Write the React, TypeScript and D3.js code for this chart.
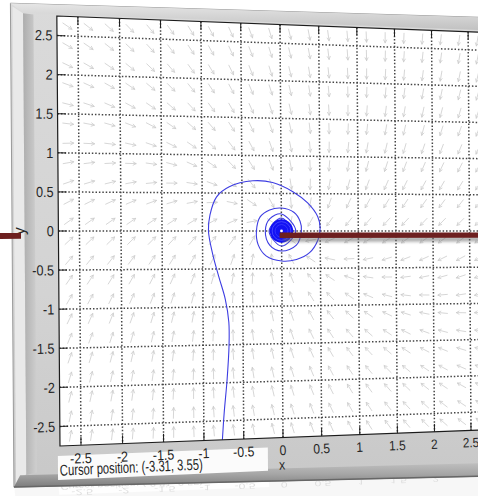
import React from "react";
import * as d3 from "d3";

// ---------- chart data ----------
const xDomain: [number, number] = [-2.75, 2.75];
const yDomain: [number, number] = [-2.75, 2.75];
const xTicks = [-2.5, -2, -1.5, -1, -0.5, 0, 0.5, 1, 1.5, 2, 2.5];
const xTickLabels = ["-2.5", "-2", "-1.5", "-1", "-0.5", "0", "0.5", "1", "1.5", "2", "2.5"];
const yTicks = [2.5, 2, 1.5, 1, 0.5, 0, -0.5, -1, -1.5, -2, -2.5];
const yTickLabels = ["2.5", "2", "1.5", "1", "0.5", "0", "-0.5", "-1", "-1.5", "-2", "-2.5"];
const xLabel = "x";
const yLabel = "y";
const cursorLabel = "Cursor position:  (-3.31, 3.55)";

// direction-field sample positions
const arrowXs = [-2.625, -2.375, -2.125, -1.875, -1.625, -1.375, -1.125, -0.875, -0.625, -0.375, -0.125,
  0.125, 0.375, 0.625, 0.875, 1.125, 1.375, 1.625, 1.875, 2.125, 2.375, 2.625];
const arrowYs = [2.625, 2.375, 2.125, 1.875, 1.625, 1.375, 1.125, 0.875, 0.625, 0.375, 0.125,
  -0.125, -0.375, -0.625, -0.875, -1.125, -1.375, -1.625, -1.875, -2.125, -2.375, -2.625];
// linear system x' = a x + b y, y' = c x + d y (estimated from the arrow directions)
const fieldRowX = [-1.13, 0.57];
const fieldRowY = [-1.0, -2.2];

// solution curve, read point by point
const trajectory: [number, number][] = [
  [-0.77, -2.76], [-0.745, -2.4], [-0.705, -1.96], [-0.677, -1.5], [-0.678, -1.2], [-0.72, -0.9],
  [-0.8, -0.6], [-0.875, -0.3], [-0.925, 0], [-0.905, 0.21], [-0.82, 0.45], [-0.66, 0.585],
  [-0.36, 0.665], [-0.11, 0.645], [0.15, 0.525], [0.34, 0.375], [0.47, 0.19], [0.5, 0.04],
  [0.47, -0.12], [0.36, -0.29], [0.19, -0.38], [0, -0.4], [-0.2, -0.33], [-0.3, -0.18], [-0.32, 0],
  [-0.27, 0.19], [-0.15, 0.28], [0, 0.306], [0.16, 0.25], [0.24, 0.13], [0.256, 0], [0.19, -0.19],
  [0, -0.267], [-0.15, -0.19], [-0.207, 0], [-0.15, 0.16], [0, 0.227], [0.183, 0], [0, -0.2],
  [-0.159, 0], [0, 0.173], [0.152, 0],
];
const coreRadius = 0.15;

// ---------- layout / perspective ----------
const WIDTH = 478;
const HEIGHT = 496;
const HALF_W = 225.4;
const HALF_H = 206.5;
const PERSP = 1.752e-4;
const CX = 281.5;
const CY = 231;
const SHEAR = 0.0073;

const xFlat = d3.scaleLinear().domain(xDomain).range([-HALF_W, HALF_W]);
const yFlat = d3.scaleLinear().domain(yDomain).range([HALF_H, -HALF_H]);

const proj = (u: number, v: number): [number, number] => {
  const den = 1 + PERSP * u;
  return [(u + CX + SHEAR * v) / den, CY + v / den];
};
const P = (x: number, y: number) => proj(xFlat(x), yFlat(y));
const poly = (pts: [number, number][]) =>
  "M" + pts.map((p) => proj(p[0], p[1]).map((n) => n.toFixed(2)).join(",")).join("L") + "Z";
const seg = (a: [number, number], b: [number, number]) => {
  const p = proj(a[0], a[1]);
  const q = proj(b[0], b[1]);
  return `M${p[0].toFixed(2)},${p[1].toFixed(2)}L${q[0].toFixed(2)},${q[1].toFixed(2)}`;
};
const textTf = (u: number, v: number, rot = 0, sx = 0.87) => {
  const [x, y] = proj(u, v);
  const [x2, y2] = proj(u + 10, v);
  const ang = (Math.atan2(y2 - y, x2 - x) * 180) / Math.PI + rot;
  const k = 1 / (1 + PERSP * u);
  return `translate(${x.toFixed(2)},${y.toFixed(2)}) rotate(${ang.toFixed(3)}) scale(${(sx * k).toFixed(4)},${k.toFixed(4)})`;
};

const FONT = "'Liberation Sans', Arial, Helvetica, sans-serif";

export default function App() {
  const xUnit = xFlat(1) - xFlat(0);
  const yUnit = yFlat(1) - yFlat(0);

  // arrows
  const arrowPaths: string[] = [];
  const L = 10.5;
  const HL = 3.4;
  for (const y of arrowYs) {
    for (const x of arrowXs) {
      const dx = fieldRowX[0] * x + fieldRowX[1] * y;
      const dy = fieldRowY[0] * x + fieldRowY[1] * y;
      let fu = dx * xUnit;
      let fv = dy * yUnit;
      const m = Math.hypot(fu, fv) || 1;
      fu /= m;
      fv /= m;
      const u0 = xFlat(x);
      const v0 = yFlat(y);
      const tail: [number, number] = [u0 - (fu * L) / 2, v0 - (fv * L) / 2];
      const tip: [number, number] = [u0 + (fu * L) / 2, v0 + (fv * L) / 2];
      const a = 0.5;
      const h1: [number, number] = [
        tip[0] - HL * (fu * Math.cos(a) - fv * Math.sin(a)),
        tip[1] - HL * (fu * Math.sin(a) + fv * Math.cos(a)),
      ];
      const h2: [number, number] = [
        tip[0] - HL * (fu * Math.cos(-a) - fv * Math.sin(-a)),
        tip[1] - HL * (fu * Math.sin(-a) + fv * Math.cos(-a)),
      ];
      const t = proj(tail[0], tail[1]);
      const p = proj(tip[0], tip[1]);
      const q1 = proj(h1[0], h1[1]);
      const q2 = proj(h2[0], h2[1]);
      arrowPaths.push(
        `M${t[0].toFixed(2)},${t[1].toFixed(2)}L${p[0].toFixed(2)},${p[1].toFixed(2)}M${q1[0].toFixed(2)},${q1[1].toFixed(2)}L${p[0].toFixed(2)},${p[1].toFixed(2)}L${q2[0].toFixed(2)},${q2[1].toFixed(2)}`
      );
    }
  }

  const line = d3
    .line<[number, number]>()
    .x((d) => P(d[0], d[1])[0])
    .y((d) => P(d[0], d[1])[1])
    .curve(d3.curveCatmullRom.alpha(0.5));

  const axesPoly = poly([
    [-HALF_W, -HALF_H],
    [HALF_W, -HALF_H],
    [HALF_W, HALF_H],
    [-HALF_W, HALF_H],
  ]);

  // frame geometry (flat coordinates)
  const FL = -270;
  const FR = 330;
  const outer = poly([
    [FL, -217],
    [FR, -223],
    [FR, 257],
    [FL, 244],
  ]);
  const bottomBevel = poly([
    [FL + 6, 233],
    [FR, 243],
    [FR, 257],
    [FL, 244],
  ]);
  const leftHighlight = poly([
    [FL + 2, -214],
    [FL + 12, -208],
    [FL + 12, 232],
    [FL + 2, 242],
  ]);
  const leftGroove = poly([
    [FL + 12, -208],
    [FL + 22, -207],
    [FL + 22, 231],
    [FL + 12, 233],
  ]);
  const topStripe = poly([
    [FL, -217],
    [FR, -223],
    [FR, -HALF_H - 2],
    [FL + 12, -HALF_H - 2],
  ]);

  const cursorBox = poly([
    [-227.5, 216],
    [-16, 216],
    [-16, 239],
    [-227.5, 239],
  ]);

  const origin = P(0, 0);
  const coreR = P(coreRadius, 0)[0] - origin[0];

  // red bars
  const leftBar = poly([
    [-300, 2],
    [-261.5, 2],
    [-261.5, 7.5],
    [-300, 7.5],
  ]);
  const rightBar = poly([
    [xFlat(0) - 2, 1.5],
    [330, 1.5],
    [330, 7],
    [xFlat(0) - 2, 7],
  ]);
  const rightBarShadow = poly([
    [xFlat(0) + 2, 6],
    [330, 6],
    [330, 11],
    [xFlat(0) + 2, 11],
  ]);

  // compressed mirror image below the frame
  const mirrorAngle = (Math.atan2(-14, 370) * 180) / Math.PI;
  const mirrorTf = `translate(60,481) rotate(${mirrorAngle}) scale(1,-0.55) rotate(${-mirrorAngle}) translate(-60,-481)`;

  const bottomLabels = (reflected: boolean) => (
    <g>
      <path d={cursorBox} fill="#fbfbfb" />
      <text
        transform={textTf(-225.5, 235, 0, 0.72)}
        fontFamily={FONT}
        fontSize={15}
        fill="#1e1e1e"
      >
        {cursorLabel}
      </text>
      {xTicks.map((t, i) =>
        reflected && t > 2 ? null : (
          <text
            key={"xl" + i}
            transform={textTf(xFlat(t), HALF_H + 17.5)}
            textAnchor="middle"
            fontFamily={FONT}
            fontSize={14}
            fill="#262626"
          >
            {xTickLabels[i]}
          </text>
        )
      )}
      <text
        transform={textTf(xFlat(0) - 1, HALF_H + 32)}
        textAnchor="middle"
        fontFamily={FONT}
        fontSize={14}
        fill="#262626"
      >
        {xLabel}
      </text>
    </g>
  );

  return (
    <svg
      width={WIDTH}
      height={HEIGHT}
      viewBox={`0 0 ${WIDTH} ${HEIGHT}`}
      style={{ position: "absolute", left: 0, top: 0, background: "#ffffff" }}
    >
      <defs>
        <linearGradient id="faceGrad" x1="0" y1="0" x2="0" y2="1">
          <stop offset="0" stopColor="#dadada" />
          <stop offset="0.6" stopColor="#d3d3d3" />
          <stop offset="1" stopColor="#c8c8c8" />
        </linearGradient>
        <linearGradient id="grooveGrad" x1="0" y1="0" x2="1" y2="0">
          <stop offset="0" stopColor="#adadad" />
          <stop offset="1" stopColor="#cfcfcf" />
        </linearGradient>
        <linearGradient id="bevelGrad" x1="0" y1="0" x2="0" y2="1">
          <stop offset="0" stopColor="#c4c4c4" />
          <stop offset="0.5" stopColor="#a6a6a6" />
          <stop offset="1" stopColor="#7c7c7c" />
        </linearGradient>
        <linearGradient id="topGrad" x1="0" y1="0" x2="0" y2="1">
          <stop offset="0" stopColor="#e6e6e6" />
          <stop offset="1" stopColor="#bcbcbc" />
        </linearGradient>
        <filter id="blur2" x="-10%" y="-200%" width="120%" height="500%">
          <feGaussianBlur stdDeviation="1.6" />
        </filter>
        <clipPath id="axClip">
          <path d={axesPoly} />
        </clipPath>
      </defs>

      {/* reflection */}
      <g transform={mirrorTf} opacity={0.15}>
        <path d={outer} fill="#d0d0d0" />
        {bottomLabels(true)}
      </g>

      {/* frame */}
      <path d={outer} fill="url(#faceGrad)" stroke="#9a9a9a" strokeWidth={1} />
      <path d={topStripe} fill="url(#topGrad)" />
      <path d={leftHighlight} fill="#e9e9e9" />
      <path d={leftGroove} fill="url(#grooveGrad)" />
      <path d={bottomBevel} fill="url(#bevelGrad)" />
      <path d={seg([FL, 244], [FR, 257])} stroke="#666" strokeWidth={1.5} />

      {/* axes */}
      <path d={axesPoly} fill="#ffffff" />
      <g clipPath="url(#axClip)">
        <path d={arrowPaths.join("")} stroke="#cbcbcb" strokeWidth={0.8} fill="none" strokeLinecap="round" />
        {xTicks.map((t, i) => (
          <path
            key={"gx" + i}
            d={seg([xFlat(t), -HALF_H], [xFlat(t), HALF_H])}
            stroke="#454545"
            strokeWidth={1.5}
            strokeDasharray="1.5 1.9"
          />
        ))}
        {yTicks.map((t, i) => (
          <path
            key={"gy" + i}
            d={seg([-HALF_W, yFlat(t)], [HALF_W, yFlat(t)])}
            stroke="#454545"
            strokeWidth={1.5}
            strokeDasharray="1.5 1.9"
          />
        ))}
        <path d={line(trajectory) || ""} fill="none" stroke="#3d3de2" strokeWidth={1.1} />
        <circle cx={origin[0]} cy={origin[1]} r={coreR} fill="#1212f4" />
        <circle cx={origin[0]} cy={origin[1]} r={coreR * 0.8} fill="none" stroke="#5a5aff" strokeWidth={0.7} />
        <circle cx={origin[0]} cy={origin[1]} r={coreR * 0.55} fill="none" stroke="#4a4aff" strokeWidth={0.6} />
        <circle cx={origin[0]} cy={origin[1]} r={1.4} fill="#ffffff" />
      </g>
      <path d={axesPoly} fill="none" stroke="#1c1c1c" strokeWidth={1.2} />
      {xTicks.map((t, i) => (
        <g key={"tx" + i}>
          <path d={seg([xFlat(t), HALF_H], [xFlat(t), HALF_H - 8])} stroke="#1c1c1c" strokeWidth={1} />
          <path d={seg([xFlat(t), -HALF_H], [xFlat(t), -HALF_H + 8])} stroke="#1c1c1c" strokeWidth={1} />
        </g>
      ))}
      {yTicks.map((t, i) => (
        <g key={"ty" + i}>
          <path d={seg([-HALF_W, yFlat(t)], [-HALF_W + 8, yFlat(t)])} stroke="#1c1c1c" strokeWidth={1} />
          <path d={seg([HALF_W, yFlat(t)], [HALF_W - 8, yFlat(t)])} stroke="#1c1c1c" strokeWidth={1} />
        </g>
      ))}

      {/* y tick labels */}
      {yTicks.map((t, i) => (
        <text
          key={"yl" + i}
          transform={textTf(-HALF_W - 4.5, yFlat(t) + 5)}
          textAnchor="end"
          fontFamily={FONT}
          fontSize={14}
          fill="#262626"
        >
          {yTickLabels[i]}
        </text>
      ))}
      <text
        transform={textTf(-258, 0, -90, 1)}
        textAnchor="middle"
        fontFamily={FONT}
        fontSize={15}
        fill="#262626"
      >
        {yLabel}
      </text>

      {bottomLabels(false)}

      {/* red annotation bars */}
      <path d={rightBarShadow} fill="#6a6a6a" opacity={0.55} filter="url(#blur2)" />
      <path d={leftBar} fill="#6d1f1f" />
      <path d={rightBar} fill="#6d1f1f" />
    </svg>
  );
}
